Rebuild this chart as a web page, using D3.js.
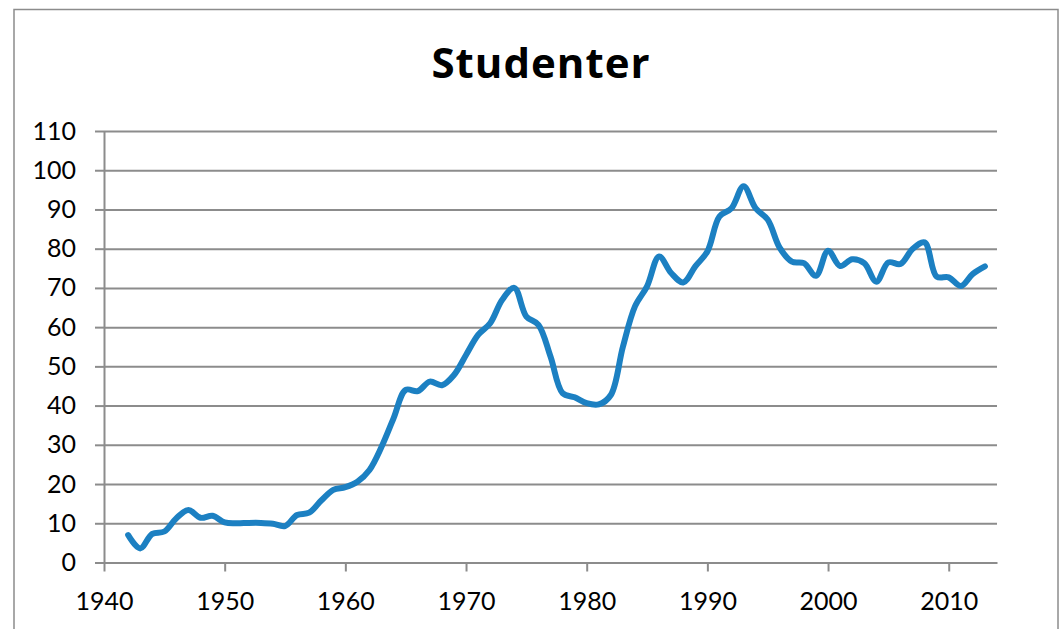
<!DOCTYPE html>
<html>
<head>
<meta charset="utf-8">
<script src="https://cdn.jsdelivr.net/npm/d3@7"></script>
<style>
  body { margin: 0; background: #fff; }
  text { font-family: Lato, "Open Sans", sans-serif; }
</style>
</head>
<body>
<div id="graph"></div>
<script>
// data
var years = [1942, 1943, 1944, 1945, 1946, 1947, 1948, 1949, 1950, 1951,
  1952, 1953, 1954, 1955, 1956, 1957, 1958, 1959, 1960, 1961,
  1962, 1963, 1964, 1965, 1966, 1967, 1968, 1969, 1970, 1971,
  1972, 1973, 1974, 1975, 1976, 1977, 1978, 1979, 1980, 1981,
  1982, 1983, 1984, 1985, 1986, 1987, 1988, 1989, 1990, 1991,
  1992, 1993, 1994, 1995, 1996, 1997, 1998, 1999, 2000, 2001,
  2002, 2003, 2004, 2005, 2006, 2007, 2008, 2009, 2010, 2011,
  2012, 2013];
var studenter = [7.0, 3.6, 7.3, 7.9, 11.3, 13.4, 11.4, 11.9, 10.2, 10.0,
  10.1, 10.1, 9.9, 9.3, 12.1, 12.7, 15.8, 18.5, 19.2, 20.6,
  23.6, 29.5, 36.8, 44.0, 43.7, 46.1, 45.2, 47.8, 52.9, 58.0,
  61.0, 67.0, 70.0, 62.7, 60.6, 52.5, 43.2, 42.1, 40.6, 40.3,
  42.7, 55.0, 65.3, 70.4, 78.0, 73.8, 71.4, 75.5, 79.3, 88.2,
  90.3, 95.9, 90.3, 87.4, 80.2, 76.7, 76.3, 73.1, 79.5, 75.6,
  77.3, 76.3, 71.6, 76.5, 76.1, 79.9, 81.6, 72.9, 72.7, 70.5,
  73.6, 75.5];
var xTicks = [1940, 1950, 1960, 1970, 1980, 1990, 2000, 2010];
var yTicks = [0, 10, 20, 30, 40, 50, 60, 70, 80, 90, 100, 110];
var title = "Studenter";

var W = 1060, H = 629;
var margin = {top: 131, right: 63, bottom: 66.5, left: 104},
    width = W - margin.left - margin.right,
    height = H - margin.top - margin.bottom;

var root = d3.select("#graph")
  .append("svg")
    .attr("width", W)
    .attr("height", H);

// chart border
root.append("rect")
  .attr("x", 14).attr("y", 9.5)
  .attr("width", 1044).attr("height", 640)
  .attr("fill", "none")
  .attr("stroke", "#8c8c8c")
  .attr("stroke-width", 1.5);

root.append("text")
  .attr("x", 541).attr("y", 78)
  .attr("text-anchor", "middle")
  .style("font-family", "'Open Sans', sans-serif")
  .style("letter-spacing", "1px")
  .attr("font-size", 42)
  .attr("font-weight", "bold")
  .attr("fill", "#000")
  .text(title);

var svg = root.append("g")
  .attr("transform", "translate(" + margin.left + "," + margin.top + ")");

var x = d3.scaleLinear().domain([1940, 2014]).range([0, width]);
var y = d3.scaleLinear().domain([0, 110]).range([height, 0]);

// gridlines
svg.append("g")
  .call(d3.axisLeft(y).tickValues(yTicks).tickSize(-width).tickFormat(""))
  .call(function (g) {
    g.select(".domain").remove();
    g.selectAll("line").attr("stroke", "#8c8c8c").attr("stroke-width", 2);
  });

// Y axis
svg.append("g")
  .call(d3.axisLeft(y).tickValues(yTicks).tickSize(9).tickPadding(19).tickSizeOuter(0))
  .call(function (g) {
    g.select(".domain").attr("stroke", "#8c8c8c").attr("stroke-width", 2);
    g.selectAll("line").attr("stroke", "#8c8c8c").attr("stroke-width", 2);
    g.selectAll("text").attr("font-size", 25).attr("fill", "#000");
  });

// X axis
svg.append("g")
  .attr("transform", "translate(0," + height + ")")
  .call(d3.axisBottom(x).tickValues(xTicks).tickFormat(d3.format("d")).tickSize(9).tickPadding(21).tickSizeOuter(0))
  .call(function (g) {
    g.select(".domain").attr("stroke", "#8c8c8c").attr("stroke-width", 2);
    g.selectAll("line").attr("stroke", "#8c8c8c").attr("stroke-width", 2);
    g.selectAll("text").attr("font-size", 25).attr("fill", "#000");
  });

// the line
svg.append("path")
  .datum(years.map(function (d, i) { return {year: d, value: studenter[i]}; }))
  .attr("fill", "none")
  .attr("stroke", "#1c80c2")
  .attr("stroke-width", 6)
  .attr("stroke-linejoin", "round")
  .attr("stroke-linecap", "round")
  .attr("d", d3.line()
    .curve(d3.curveCatmullRom.alpha(0.5))
    .x(function (d) { return x(d.year); })
    .y(function (d) { return y(d.value); }));
</script>
</body>
</html>
